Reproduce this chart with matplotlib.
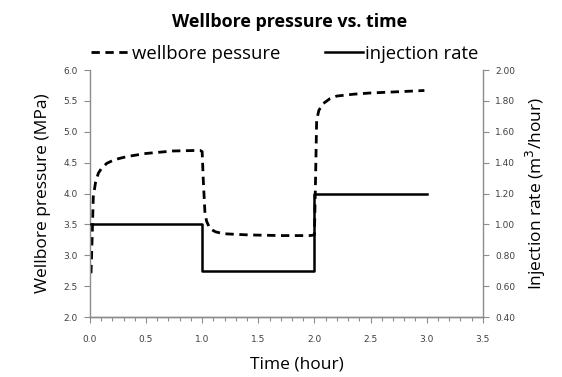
import numpy as np
import matplotlib.pyplot as plt
from matplotlib.ticker import MultipleLocator

# Wellbore pressure (MPa) vs. time (hour)
time_pressure = [0.01, 0.02, 0.03, 0.05, 0.075, 0.1, 0.15, 0.22, 0.33, 0.5, 0.74, 0.98,
                 1.0, 1.01, 1.025, 1.04, 1.07, 1.12, 1.19, 1.3, 1.42, 1.7, 1.96,
                 2.0, 2.01, 2.02, 2.04, 2.08, 2.14, 2.2, 2.35, 2.5, 2.75, 2.98]
pressure = [2.71, 3.3, 3.95, 4.18, 4.33, 4.4, 4.49, 4.55, 4.6, 4.65, 4.69, 4.7,
            4.68, 4.22, 3.68, 3.55, 3.43, 3.38, 3.35, 3.34, 3.33, 3.32, 3.32,
            3.33, 4.22, 5.19, 5.35, 5.46, 5.54, 5.58, 5.61, 5.63, 5.65, 5.67]

# Injection rate (m3/hour), stepwise
time_rate = [0.01, 1.0, 1.0, 2.0, 2.0, 3.0]
rate = [1.0, 1.0, 0.7, 0.7, 1.2, 1.2]

grey = '#8c8c8c'
tick_color = '#404040'

fig = plt.figure(figsize=(5.62, 3.77), dpi=100)
ax = fig.add_axes([0.160, 0.159, 0.699, 0.655])
ax2 = ax.twinx()

l1, = ax.plot(time_pressure, pressure, color='black', lw=2.0, linestyle=(0, (3, 2)),
              label='wellbore pessure')
l2, = ax2.plot(time_rate, rate, color='black', lw=1.8, label='injection rate')

ax.set_xlim(0, 3.5)
ax.set_ylim(2.0, 6.0)
ax2.set_ylim(0.4, 2.0)

ax.xaxis.set_major_locator(MultipleLocator(0.5))
ax.xaxis.set_minor_locator(MultipleLocator(0.1))
ax.yaxis.set_major_locator(MultipleLocator(0.5))
ax2.yaxis.set_major_locator(MultipleLocator(0.2))
ax.xaxis.set_major_formatter(plt.FormatStrFormatter('%.1f'))
ax.yaxis.set_major_formatter(plt.FormatStrFormatter('%.1f'))
ax2.yaxis.set_major_formatter(plt.FormatStrFormatter('%.2f'))

for a in (ax, ax2):
    for s in a.spines.values():
        s.set_color(grey)
        s.set_linewidth(1.0)
    a.spines['top'].set_visible(False)
    a.tick_params(which='both', colors=grey, labelcolor=tick_color, labelsize=6.5,
                  direction='out', length=4, width=0.8)
ax.spines['right'].set_visible(False)
ax2.spines['left'].set_visible(False)
ax.tick_params(axis='x', which='minor', length=3)
ax.tick_params(axis='x', pad=9)
ax.tick_params(axis='y', pad=5)
ax2.tick_params(axis='y', pad=5)

ax.set_xlabel('Time (hour)', fontsize=12.5, family='Open Sans', labelpad=9)
ax.xaxis.label.set_x(0.527)
ax.set_ylabel('Wellbore pressure (MPa)', fontsize=12.5, family='Open Sans', labelpad=9)
ax2.set_ylabel('Injection rate (m$^3$/hour)', fontsize=12.5, family='Open Sans', labelpad=6)

fig.text(0.516, 0.942, 'Wellbore pressure vs. time', ha='center', va='center',
         fontsize=12.9, fontweight='bold', family='Open Sans')
fig.legend(handles=[l1, l2], loc='center', bbox_to_anchor=(0.507, 0.857), ncol=2,
           frameon=False, prop={'family': 'Open Sans', 'size': 13.3},
           handlelength=2.1, handletextpad=0.1, columnspacing=2.4)

fig.savefig('out.png', dpi=100)
